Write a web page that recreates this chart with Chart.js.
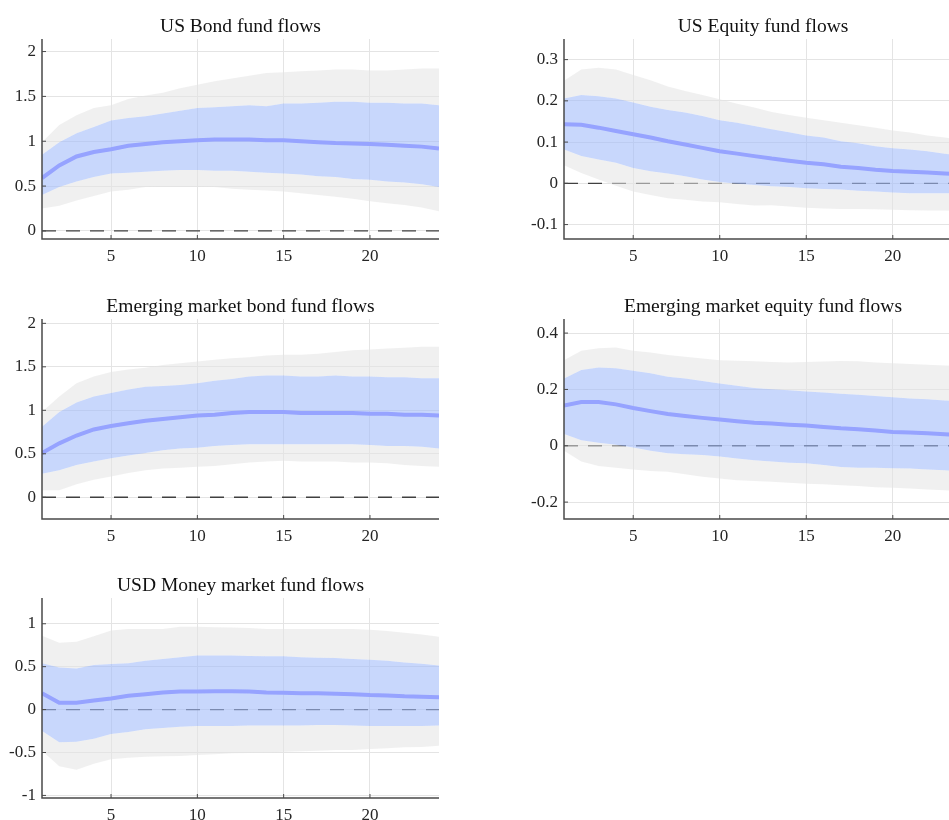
<!DOCTYPE html>
<html>
<head>
<meta charset="utf-8">
<script src="https://cdn.jsdelivr.net/npm/chart.js@4.4.1/dist/chart.umd.min.js"></script>
<style>
  html, body { margin: 0; padding: 0; background: #fff; }
  body { position: relative; width: 949px; height: 820px; overflow: hidden; }
  canvas { position: absolute; }
</style>
</head>
<body>
<canvas id="usBond" width="449" height="269" style="left:0;top:0"></canvas>
<canvas id="usEquity" width="450" height="269" style="left:522px;top:0"></canvas>
<canvas id="emBond" width="449" height="269" style="left:0;top:280px"></canvas>
<canvas id="emEquity" width="450" height="269" style="left:522px;top:280px"></canvas>
<canvas id="usdMoney" width="449" height="269" style="left:0;top:559px"></canvas>
<script>
const horizons = [1, 2, 3, 4, 5, 6, 7, 8, 9, 10, 11, 12, 13, 14, 15, 16, 17, 18, 19, 20, 21, 22, 23, 24];
const xTicks = [5, 10, 15, 20];

// US Bond fund flows
const usBondMean    = [0.59, 0.73, 0.83, 0.88, 0.91, 0.95, 0.97, 0.99, 1.00, 1.01, 1.02, 1.02, 1.02, 1.01, 1.01, 1.00, 0.99, 0.98, 0.975, 0.97, 0.96, 0.95, 0.94, 0.92];
const usBondInnerHi = [0.85, 0.99, 1.09, 1.16, 1.23, 1.26, 1.28, 1.31, 1.34, 1.37, 1.38, 1.39, 1.40, 1.39, 1.42, 1.42, 1.43, 1.44, 1.44, 1.43, 1.43, 1.42, 1.42, 1.40];
const usBondInnerLo = [0.40, 0.49, 0.55, 0.60, 0.64, 0.65, 0.66, 0.67, 0.68, 0.68, 0.67, 0.67, 0.66, 0.65, 0.64, 0.63, 0.61, 0.60, 0.58, 0.57, 0.55, 0.54, 0.52, 0.49];
const usBondOuterHi = [0.99, 1.18, 1.29, 1.37, 1.40, 1.47, 1.51, 1.54, 1.59, 1.63, 1.67, 1.70, 1.73, 1.76, 1.77, 1.78, 1.79, 1.80, 1.80, 1.79, 1.79, 1.80, 1.81, 1.81];
const usBondOuterLo = [0.25, 0.28, 0.34, 0.39, 0.44, 0.46, 0.49, 0.50, 0.50, 0.50, 0.49, 0.47, 0.46, 0.45, 0.44, 0.42, 0.40, 0.38, 0.36, 0.33, 0.31, 0.29, 0.26, 0.22];
const usBondYTicks  = [0, 0.5, 1, 1.5, 2];

// US Equity fund flows
const usEquityMean    = [0.143, 0.142, 0.135, 0.127, 0.119, 0.111, 0.102, 0.094, 0.086, 0.078, 0.072, 0.066, 0.060, 0.055, 0.050, 0.046, 0.040, 0.037, 0.033, 0.030, 0.028, 0.026, 0.024, 0.022];
const usEquityInnerHi = [0.206, 0.214, 0.211, 0.206, 0.196, 0.186, 0.178, 0.172, 0.163, 0.153, 0.147, 0.139, 0.131, 0.124, 0.116, 0.111, 0.102, 0.097, 0.090, 0.085, 0.082, 0.078, 0.072, 0.067];
const usEquityInnerLo = [0.082, 0.066, 0.058, 0.050, 0.037, 0.029, 0.024, 0.017, 0.009, 0.003, -0.001, -0.004, -0.007, -0.009, -0.012, -0.014, -0.015, -0.018, -0.020, -0.022, -0.024, -0.024, -0.024, -0.024];
const usEquityOuterHi = [0.249, 0.276, 0.280, 0.276, 0.263, 0.250, 0.235, 0.224, 0.214, 0.204, 0.193, 0.184, 0.173, 0.166, 0.159, 0.153, 0.147, 0.141, 0.135, 0.128, 0.123, 0.116, 0.111, 0.105];
const usEquityOuterLo = [0.044, 0.025, 0.009, -0.006, -0.020, -0.028, -0.036, -0.040, -0.044, -0.046, -0.050, -0.054, -0.053, -0.056, -0.059, -0.061, -0.062, -0.062, -0.063, -0.064, -0.065, -0.066, -0.066, -0.067];
const usEquityYTicks  = [-0.1, 0, 0.1, 0.2, 0.3];

// Emerging market bond fund flows
const emBondMean    = [0.51, 0.62, 0.71, 0.78, 0.82, 0.85, 0.88, 0.90, 0.92, 0.94, 0.95, 0.97, 0.98, 0.98, 0.98, 0.97, 0.97, 0.97, 0.97, 0.96, 0.96, 0.95, 0.95, 0.94];
const emBondInnerHi = [0.81, 0.98, 1.09, 1.16, 1.20, 1.24, 1.27, 1.28, 1.29, 1.31, 1.34, 1.36, 1.39, 1.40, 1.40, 1.39, 1.39, 1.40, 1.39, 1.39, 1.38, 1.38, 1.37, 1.37];
const emBondInnerLo = [0.27, 0.31, 0.37, 0.41, 0.45, 0.48, 0.51, 0.54, 0.56, 0.57, 0.59, 0.60, 0.61, 0.61, 0.61, 0.61, 0.61, 0.61, 0.61, 0.60, 0.59, 0.59, 0.58, 0.56];
const emBondOuterHi = [0.98, 1.16, 1.31, 1.39, 1.44, 1.47, 1.49, 1.52, 1.54, 1.56, 1.58, 1.60, 1.61, 1.63, 1.64, 1.64, 1.65, 1.67, 1.69, 1.70, 1.71, 1.72, 1.73, 1.73];
const emBondOuterLo = [0.08, 0.08, 0.15, 0.20, 0.24, 0.28, 0.31, 0.33, 0.34, 0.35, 0.36, 0.38, 0.40, 0.41, 0.42, 0.41, 0.41, 0.41, 0.40, 0.40, 0.39, 0.37, 0.36, 0.35];
const emBondYTicks  = [0, 0.5, 1, 1.5, 2];

// Emerging market equity fund flows
const emEquityMean    = [0.143, 0.155, 0.155, 0.147, 0.134, 0.123, 0.113, 0.106, 0.099, 0.093, 0.087, 0.082, 0.079, 0.075, 0.072, 0.067, 0.062, 0.059, 0.054, 0.049, 0.047, 0.044, 0.041, 0.037];
const emEquityInnerHi = [0.239, 0.269, 0.278, 0.275, 0.266, 0.257, 0.245, 0.239, 0.230, 0.221, 0.213, 0.205, 0.201, 0.197, 0.193, 0.189, 0.185, 0.181, 0.177, 0.172, 0.168, 0.165, 0.161, 0.158];
const emEquityInnerLo = [0.042, 0.020, 0.011, 0.004, -0.006, -0.018, -0.027, -0.030, -0.033, -0.038, -0.045, -0.051, -0.056, -0.060, -0.062, -0.068, -0.075, -0.078, -0.078, -0.080, -0.081, -0.084, -0.087, -0.092];
const emEquityOuterHi = [0.304, 0.337, 0.346, 0.349, 0.337, 0.331, 0.322, 0.316, 0.310, 0.304, 0.302, 0.300, 0.297, 0.296, 0.297, 0.299, 0.301, 0.300, 0.296, 0.293, 0.290, 0.288, 0.285, 0.283];
const emEquityOuterLo = [-0.018, -0.056, -0.072, -0.078, -0.084, -0.090, -0.092, -0.101, -0.110, -0.116, -0.122, -0.125, -0.128, -0.131, -0.135, -0.137, -0.140, -0.143, -0.147, -0.149, -0.152, -0.155, -0.158, -0.161];
const emEquityYTicks  = [-0.2, 0, 0.2, 0.4];

// USD Money market fund flows
const usdMoneyMean    = [0.19, 0.08, 0.08, 0.105, 0.13, 0.16, 0.18, 0.20, 0.21, 0.21, 0.215, 0.215, 0.21, 0.20, 0.195, 0.19, 0.19, 0.185, 0.18, 0.17, 0.165, 0.155, 0.15, 0.145];
const usdMoneyInnerHi = [0.54, 0.49, 0.48, 0.52, 0.53, 0.54, 0.57, 0.59, 0.61, 0.63, 0.63, 0.63, 0.625, 0.62, 0.62, 0.61, 0.605, 0.60, 0.59, 0.58, 0.57, 0.55, 0.535, 0.515];
const usdMoneyInnerLo = [-0.25, -0.38, -0.375, -0.34, -0.285, -0.26, -0.23, -0.215, -0.20, -0.19, -0.19, -0.19, -0.185, -0.185, -0.185, -0.185, -0.18, -0.18, -0.185, -0.19, -0.19, -0.19, -0.19, -0.185];
const usdMoneyOuterHi = [0.86, 0.78, 0.79, 0.855, 0.92, 0.94, 0.94, 0.94, 0.965, 0.965, 0.96, 0.955, 0.95, 0.94, 0.94, 0.94, 0.94, 0.94, 0.94, 0.93, 0.915, 0.895, 0.875, 0.85];
const usdMoneyOuterLo = [-0.48, -0.66, -0.70, -0.63, -0.58, -0.56, -0.55, -0.545, -0.54, -0.53, -0.52, -0.51, -0.505, -0.50, -0.49, -0.485, -0.48, -0.47, -0.47, -0.46, -0.45, -0.44, -0.435, -0.42];
const usdMoneyYTicks  = [-1, -0.5, 0, 0.5, 1];

const FONT = "'Liberation Serif', 'DejaVu Serif', serif";

// axis lines plus short ticks pointing into the plot, drawn over the bands
const innerTicks = {
    id: 'innerTicks',
    afterDatasetsDraw(chart) {
        const { ctx, chartArea: a, scales: { x, y } } = chart;
        ctx.save();
        ctx.strokeStyle = '#4a4a4a';
        ctx.lineWidth = 1.5;
        ctx.beginPath();
        ctx.moveTo(a.left, a.top);
        ctx.lineTo(a.left, a.bottom);
        ctx.lineTo(a.right, a.bottom);
        ctx.stroke();
        ctx.lineWidth = 1;
        ctx.beginPath();
        x.ticks.forEach(t => {
            const px = x.getPixelForValue(t.value);
            ctx.moveTo(px, a.bottom);
            ctx.lineTo(px, a.bottom - 4);
        });
        y.ticks.forEach(t => {
            const py = y.getPixelForValue(t.value);
            ctx.moveTo(a.left, py);
            ctx.lineTo(a.left + 4, py);
        });
        ctx.stroke();
        ctx.restore();
    }
};

// title centred over the plot area (not the whole canvas, like the original)
const panelTitle = {
    id: 'panelTitle',
    afterDraw(chart, args, opts) {
        const { ctx, chartArea: a } = chart;
        ctx.save();
        ctx.fillStyle = '#111';
        ctx.font = `19.5px ${FONT}`;
        ctx.textAlign = 'center';
        ctx.textBaseline = 'alphabetic';
        ctx.fillText(opts.text, (a.left + a.right) / 2, a.top - 7.5);
        ctx.restore();
    }
};

const pts = arr => horizons.map((h, i) => ({ x: h, y: arr[i] }));

function makePanel(id, title, mean, innerLo, innerHi, outerLo, outerHi, yTicks, yMin, yMax) {
    const grey = 'rgba(228, 228, 228, 0.55)';
    new Chart(document.getElementById(id), {
        type: 'line',
        data: {
            datasets: [
                { data: pts(mean), borderColor: 'rgb(150, 163, 255)', borderWidth: 4, order: 0 },
                // inner band: innerHi down to innerLo
                { data: pts(innerHi), borderWidth: 0, fill: '+1', backgroundColor: 'rgba(163, 188, 250, 0.6)', order: 1 },
                { data: pts(innerLo), borderWidth: 0, fill: false, order: 1 },
                // outer band, only the parts outside the inner band
                { data: pts(outerHi), borderWidth: 0, fill: 1, backgroundColor: grey, order: 2 },
                { data: pts(outerLo), borderWidth: 0, fill: 2, backgroundColor: grey, order: 2 },
                {
                    data: [{ x: horizons[0], y: 0 }, { x: horizons[horizons.length - 1], y: 0 }],
                    borderColor: '#404040', borderWidth: 1.3, borderDash: [14, 10], order: 3
                }
            ]
        },
        options: {
            responsive: false,
            animation: false,
            events: [],
            elements: { point: { radius: 0 }, line: { tension: 0 } },
            layout: { padding: { top: 39, right: 10, bottom: 0, left: 0 } },
            plugins: {
                legend: { display: false },
                tooltip: { enabled: false },
                title: { display: false },
                panelTitle: { text: title }
            },
            scales: {
                x: {
                    type: 'linear',
                    min: horizons[0],
                    max: horizons[horizons.length - 1],
                    afterBuildTicks: s => { s.ticks = xTicks.map(v => ({ value: v })); },
                    afterFit: s => { s.height = 30; },
                    grid: { color: '#e4e4e4', drawTicks: false },
                    border: { display: false },
                    ticks: {
                        color: '#262626', padding: 7, maxRotation: 0, autoSkip: false,
                        font: { family: FONT, size: 17 }
                    }
                },
                y: {
                    min: yMin,
                    max: yMax,
                    afterBuildTicks: s => { s.ticks = yTicks.map(v => ({ value: v })); },
                    afterFit: s => { s.width = 42; },
                    grid: { color: '#e4e4e4', drawTicks: false },
                    border: { display: false },
                    ticks: {
                        color: '#262626', padding: 6, autoSkip: false,
                        font: { family: FONT, size: 17 },
                        callback: v => String(v)
                    }
                }
            }
        },
        plugins: [innerTicks, panelTitle]
    });
}

makePanel('usBond', 'US Bond fund flows', usBondMean, usBondInnerLo, usBondInnerHi, usBondOuterLo, usBondOuterHi, usBondYTicks, -0.09, 2.14);
makePanel('usEquity', 'US Equity fund flows', usEquityMean, usEquityInnerLo, usEquityInnerHi, usEquityOuterLo, usEquityOuterHi, usEquityYTicks, -0.135, 0.35);
makePanel('emBond', 'Emerging market bond fund flows', emBondMean, emBondInnerLo, emBondInnerHi, emBondOuterLo, emBondOuterHi, emBondYTicks, -0.25, 2.05);
makePanel('emEquity', 'Emerging market equity fund flows', emEquityMean, emEquityInnerLo, emEquityInnerHi, emEquityOuterLo, emEquityOuterHi, emEquityYTicks, -0.26, 0.45);
makePanel('usdMoney', 'USD Money market fund flows', usdMoneyMean, usdMoneyInnerLo, usdMoneyInnerHi, usdMoneyOuterLo, usdMoneyOuterHi, usdMoneyYTicks, -1.03, 1.3);
</script>
</body>
</html>
